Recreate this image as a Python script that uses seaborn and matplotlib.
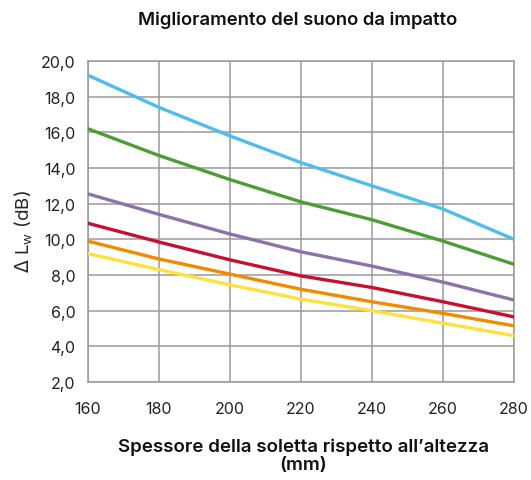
import numpy as np
import pandas as pd
import seaborn as sns
import matplotlib.pyplot as plt
from matplotlib.ticker import FuncFormatter

# =============================
# Data
# =============================
spessore = [160, 180, 200, 220, 240, 260, 280]
serie_blu = [19.2, 17.4, 15.8, 14.3, 13.0, 11.7, 10.0]
serie_verde = [16.2, 14.7, 13.35, 12.1, 11.1, 9.9, 8.6]
serie_viola = [12.55, 11.4, 10.3, 9.3, 8.5, 7.6, 6.6]
serie_rossa = [10.9, 9.85, 8.85, 7.95, 7.3, 6.5, 5.65]
serie_arancio = [9.9, 8.9, 8.05, 7.2, 6.5, 5.85, 5.15]
serie_gialla = [9.2, 8.3, 7.45, 6.65, 6.0, 5.3, 4.6]

nomi = ["blu", "verde", "viola", "rossa", "arancio", "gialla"]
valori = [serie_blu, serie_verde, serie_viola, serie_rossa, serie_arancio, serie_gialla]
colori = ["#4DBEEB", "#4A9E33", "#8C72AC", "#C8102E", "#F28A00", "#FFE03C"]

df = pd.concat(
    [pd.DataFrame({"x": spessore, "y": v, "serie": n}) for n, v in zip(nomi, valori)],
    ignore_index=True,
)

# =============================
# Plot
# =============================
sns.set_style("white")
plt.rcParams["font.family"] = ["Inter", "DejaVu Sans"]

fig = plt.figure(figsize=(5.31, 4.81), dpi=100)
ax = fig.add_axes([0.1657, 0.2037, 0.8023, 0.6674])

sns.lineplot(data=df, x="x", y="y", hue="serie", palette=dict(zip(nomi, colori)),
             linewidth=2.4, legend=False, ax=ax, zorder=3)

ax.set_xlim(160, 280)
ax.set_ylim(2, 20)
ax.set_xticks(spessore)
ax.set_yticks(np.arange(2, 21, 2))
ax.yaxis.set_major_formatter(FuncFormatter(lambda v, _: f"{v:.1f}".replace(".", ",")))
ax.grid(True, color="#9a9a9a", linewidth=1.1)
for s in ax.spines.values():
    s.set_color("#9a9a9a")
    s.set_linewidth(1.1)
ax.tick_params(length=0, labelsize=11.5, colors="#222222", pad=9)
ax.tick_params(axis="x", pad=14)

ax.set_xlabel("")
ax.set_ylabel(r"$\Delta$ L$_\mathregular{w}$ (dB)", fontsize=13.5)
ax.yaxis.set_label_coords(-0.124, 0.472)

fig.text(0.560, 0.958, "Miglioramento del suono da impatto", ha="center",
         va="center", fontsize=13.3, fontweight="semibold", color="#111111")
fig.text(0.571, 0.051, "Spessore della soletta rispetto all\u2019altezza\n(mm)",
         ha="center", va="center", fontsize=13.5, fontweight="semibold",
         color="#111111", linespacing=1.05)

fig.savefig("out.png", dpi=100)
